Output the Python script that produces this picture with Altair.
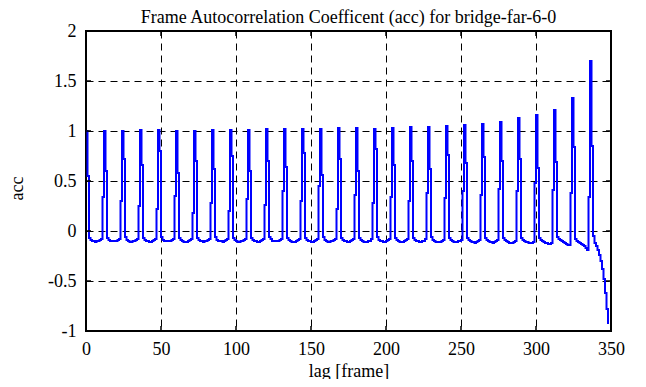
import altair as alt
import pandas as pd

# acc values, one row per 12-frame cycle (lags 12n .. 12n+11)
acc = [
    1.00, 0.55, -0.07, -0.09, -0.10, -0.10, -0.11, -0.10, -0.10, -0.09, -0.08, 0.34,
    1.00, 0.60, -0.07, -0.09, -0.10, -0.10, -0.10, -0.10, -0.10, -0.09, -0.08, 0.30,
    1.00, 0.72, -0.06, -0.09, -0.10, -0.11, -0.11, -0.10, -0.10, -0.09, -0.08, 0.25,
    1.01, 0.66, -0.07, -0.09, -0.10, -0.10, -0.11, -0.11, -0.10, -0.09, -0.08, 0.22,
    1.01, 0.80, -0.06, -0.09, -0.10, -0.10, -0.10, -0.10, -0.10, -0.09, -0.08, 0.35,
    1.00, 0.58, -0.07, -0.09, -0.10, -0.11, -0.11, -0.11, -0.10, -0.09, -0.08, 0.18,
    1.00, 0.70, -0.07, -0.09, -0.10, -0.10, -0.11, -0.10, -0.10, -0.09, -0.08, 0.28,
    1.01, 0.62, -0.06, -0.09, -0.10, -0.10, -0.10, -0.11, -0.10, -0.09, -0.08, 0.20,
    1.01, 0.75, -0.07, -0.09, -0.10, -0.11, -0.11, -0.10, -0.10, -0.09, -0.08, 0.32,
    1.01, 0.60, -0.07, -0.09, -0.10, -0.10, -0.11, -0.11, -0.10, -0.09, -0.08, 0.26,
    1.02, 0.70, -0.06, -0.08, -0.10, -0.10, -0.10, -0.10, -0.10, -0.09, -0.08, 0.40,
    1.02, 0.64, -0.07, -0.09, -0.10, -0.11, -0.11, -0.11, -0.10, -0.09, -0.08, 0.30,
    1.02, 0.78, -0.07, -0.09, -0.10, -0.10, -0.11, -0.11, -0.10, -0.09, -0.08, 0.45,
    1.02, 0.56, -0.06, -0.09, -0.10, -0.11, -0.11, -0.10, -0.10, -0.09, -0.08, 0.22,
    1.03, 0.72, -0.07, -0.09, -0.10, -0.10, -0.11, -0.11, -0.10, -0.09, -0.08, 0.36,
    1.03, 0.60, -0.07, -0.09, -0.10, -0.11, -0.11, -0.11, -0.10, -0.10, -0.08, 0.28,
    1.02, 0.82, -0.06, -0.09, -0.10, -0.10, -0.11, -0.11, -0.10, -0.09, -0.08, 0.34,
    1.03, 0.66, -0.07, -0.09, -0.10, -0.11, -0.11, -0.11, -0.10, -0.09, -0.08, 0.30,
    1.04, 0.70, -0.07, -0.09, -0.10, -0.10, -0.11, -0.11, -0.10, -0.10, -0.08, 0.38,
    1.04, 0.62, -0.06, -0.09, -0.10, -0.11, -0.11, -0.11, -0.11, -0.10, -0.09, 0.33,
    1.05, 0.76, -0.07, -0.09, -0.10, -0.11, -0.11, -0.11, -0.10, -0.10, -0.09, 0.40,
    1.06, 0.68, -0.07, -0.09, -0.10, -0.11, -0.11, -0.12, -0.11, -0.10, -0.09, 0.36,
    1.07, 0.74, -0.07, -0.09, -0.10, -0.11, -0.11, -0.12, -0.11, -0.10, -0.09, 0.42,
    1.09, 0.70, -0.07, -0.09, -0.10, -0.11, -0.12, -0.12, -0.12, -0.11, -0.10, 0.40,
    1.13, 0.72, -0.07, -0.09, -0.10, -0.11, -0.11, -0.12, -0.12, -0.12, -0.11, 0.48,
    1.16, 0.63, -0.07, -0.09, -0.10, -0.11, -0.12, -0.12, -0.13, -0.13, -0.12, 0.41,
    1.21, 0.69, -0.06, -0.08, -0.09, -0.10, -0.11, -0.12, -0.13, -0.14, -0.14, 0.38,
    1.33, 0.84, -0.08, -0.10, -0.11, -0.12, -0.13, -0.14, -0.15, -0.17, -0.19, 0.34,
    1.70, 0.85, -0.05, -0.12, -0.15, -0.19, -0.24, -0.30, -0.38, -0.48, -0.62, -0.78,
    -0.93,
]
lags = list(range(len(acc)))

x_ticks = [0, 50, 100, 150, 200, 250, 300, 350]
y_ticks = [-1, -0.5, 0, 0.5, 1, 1.5, 2]
title_text = ["Frame Autocorrelation Coefficent (acc) for bridge-far-6-0"]

W, H = 525, 300
FONT = "Liberation Serif"

df = pd.DataFrame({"lag": lags, "acc": acc})
xt = pd.DataFrame({"lag": x_ticks})
yt = pd.DataFrame({"acc": y_ticks})
tt = pd.DataFrame({"t": title_text})

xscale = alt.Scale(domain=[0, 350], nice=False, zero=False)
yscale = alt.Scale(domain=[-1, 2], nice=False, zero=False)

xaxis = alt.Axis(values=x_ticks, title="lag [frame]", labelFlush=False, labelPadding=9,
                 titleY=40, titleBaseline="middle")
yaxis = alt.Axis(values=y_ticks, title="acc", labelExpr="'' + datum.value", labelPadding=10,
                 titleX=-64, titleY=157, titleBaseline="alphabetic", titleAlign="center")

line = alt.Chart(df).mark_line(color="#0000ff", strokeWidth=2, clip=True,
                               interpolate="step-after").encode(
    x=alt.X("lag:Q", scale=xscale, axis=xaxis),
    y=alt.Y("acc:Q", scale=yscale, axis=yaxis),
)

tick_style = dict(color="black", strokeWidth=1.5)
right_ticks = alt.Chart(yt).mark_rule(**tick_style).encode(
    y=alt.Y("acc:Q", scale=yscale, axis=yaxis), x=alt.value(W - 5), x2=alt.value(W))
left_ticks = alt.Chart(yt).mark_rule(**tick_style).encode(
    y=alt.Y("acc:Q", scale=yscale, axis=yaxis), x=alt.value(0), x2=alt.value(5))
top_ticks = alt.Chart(xt).mark_rule(**tick_style).encode(
    x=alt.X("lag:Q", scale=xscale, axis=xaxis), y=alt.value(0), y2=alt.value(5))
bottom_ticks = alt.Chart(xt).mark_rule(**tick_style).encode(
    x=alt.X("lag:Q", scale=xscale, axis=xaxis), y=alt.value(H - 5), y2=alt.value(H))

title = alt.Chart(tt).mark_text(
    font=FONT, fontSize=18, color="black", align="center", baseline="alphabetic"
).encode(text="t:N", x=alt.value(W / 2), y=alt.value(-8))

chart = alt.layer(line, right_ticks, left_ticks, top_ticks, bottom_ticks, title).properties(
    width=W, height=H,
    background="white",
    autosize=alt.AutoSizeParams(type="none"),
    padding={"left": 78, "top": 23, "right": 27, "bottom": 48},
).configure_view(
    stroke="black", strokeWidth=2
).configure_axis(
    grid=True, gridColor="black", gridDash=[7, 5], gridWidth=1, gridOpacity=1,
    domain=False, ticks=False,
    labelFont=FONT, labelFontSize=18, labelColor="black",
    titleFont=FONT, titleFontSize=18, titleFontWeight="normal", titleColor="black",
)

chart.save("out.html", embed_options={"renderer": "svg", "actions": False})
